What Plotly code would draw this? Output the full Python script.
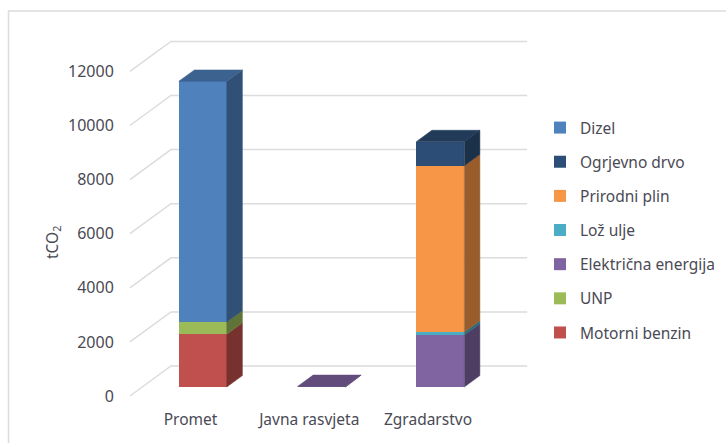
import plotly.graph_objects as go

categories = ["Promet", "Javna rasvjeta", "Zgradarstvo"]
y_ticks = [0, 2000, 4000, 6000, 8000, 10000, 12000]

# values per category, tCO2
dizel = [8900, 0, 0]
ogrjevno_drvo = [0, 0, 890]
prirodni_plin = [0, 0, 6150]
loz_ulje = [0, 0, 110]
elektricna_energija = [0, 20, 1920]
unp = [450, 0, 0]
motorni_benzin = [1950, 0, 0]

# (name, values, colour) in stacking order, bottom first
stack = [
    ("Motorni benzin", motorni_benzin, (192, 80, 77)),
    ("UNP", unp, (155, 187, 89)),
    ("Električna energija", elektricna_energija, (128, 100, 162)),
    ("Lož ulje", loz_ulje, (75, 172, 198)),
    ("Prirodni plin", prirodni_plin, (247, 150, 70)),
    ("Ogrjevno drvo", ogrjevno_drvo, (44, 77, 117)),
    ("Dizel", dizel, (79, 129, 189)),
]
legend_order = ["Dizel", "Ogrjevno drvo", "Prirodni plin", "Lož ulje",
                "Električna energija", "UNP", "Motorni benzin"]

# Oblique projection of the 3-D chart, in axis units
W, H = 726, 443
PX_L, PX_R, PX_T, PX_B = 125, 726, 30, 400
PX_PER_CAT = 118.75
PX_PER_VAL = 0.02705
X0_PX, Y0_PX = 190.5, 396.0
DX = 41 / PX_PER_CAT          # shift in x per unit depth
DY = 30 / PX_PER_VAL          # shift in y per unit depth
D_FRONT, D_BACK = 0.3, 0.68   # depth span of the columns
HALF = 24 / PX_PER_CAT
SIDE, TOP = 0.62, 0.76
WALL_L, WALL_R = -0.51, 2.49


def proj(x, v, d):
    return x + DX * d, v + DY * d


def rgb(c, k=1.0):
    return "rgb({},{},{})".format(*[round(a * k) for a in c])


def poly(pts, colour):
    xs, ys = zip(*pts)
    return go.Scatter(x=list(xs) + [xs[0]], y=list(ys) + [ys[0]], mode="lines",
                      fill="toself", fillcolor=colour, line=dict(color=colour, width=0.5),
                      hoverinfo="skip", showlegend=False)


fig = go.Figure()

traces = {}
cum = [0] * len(categories)
tops = [None] * len(categories)
faces = []
for name, vals, col in stack:
    bx, by, bb = [], [], []
    for i, v in enumerate(vals):
        if v > 0:
            fx, fb = proj(i, cum[i], D_FRONT)
            bx.append(fx)
            bb.append(fb)
            by.append(v)
            lo, hi = cum[i], cum[i] + v
            r = i + HALF
            faces.append(poly([proj(r, lo, D_FRONT), proj(r, lo, D_BACK),
                               proj(r, hi, D_BACK), proj(r, hi, D_FRONT)], rgb(col, SIDE)))
            tops[i] = (hi, col)
            cum[i] = hi
    traces[name] = go.Bar(x=bx, y=by, base=bb, width=2 * HALF, name=name,
                          marker=dict(color=rgb(col), line=dict(width=0)),
                          legendgroup=name, hoverinfo="name+y")

for i, t in enumerate(tops):
    hi, col = t
    faces.append(poly([proj(i - HALF, hi, D_FRONT), proj(i + HALF, hi, D_FRONT),
                       proj(i + HALF, hi, D_BACK), proj(i - HALF, hi, D_BACK)], rgb(col, TOP)))

for n in legend_order:
    fig.add_trace(traces[n])
for f in faces:
    fig.add_trace(f)

# Slanted gridlines on side wall and back wall
shapes = []
for v in y_ticks:
    x1, y1 = proj(WALL_L, v, 1)
    x2, y2 = proj(WALL_R, v, 1)
    shapes.append(dict(type="path", xref="x", yref="y", layer="below",
                       path=f"M{WALL_L},{v}L{x1},{y1}L{x2},{y2}",
                       line=dict(color="#dcdcdc", width=1.5)))

# Outer chart frame (runs off the right and bottom of the picture)
fw = PX_R - PX_L
fh = PX_B - PX_T
shapes.append(dict(type="rect", xref="paper", yref="paper", layer="below",
                   x0=(8.5 - PX_L) / fw, x1=(740 - PX_L) / fw,
                   y0=(PX_B - 460) / fh, y1=(PX_B - 11) / fh,
                   line=dict(color="#dcdcdc", width=1.5)))

FONT = "Noto Sans"
TEXT = "#4a4a55"
fig.update_layout(
    width=W, height=H, autosize=False,
    margin=dict(l=PX_L, r=W - PX_R, t=PX_T, b=H - PX_B, pad=0),
    paper_bgcolor="white", plot_bgcolor="rgba(0,0,0,0)",
    barmode="overlay", bargap=0,
    shapes=shapes,
    font=dict(family=FONT, color=TEXT, size=15.5),
    xaxis=dict(range=[(PX_L - X0_PX) / PX_PER_CAT, (PX_R - X0_PX) / PX_PER_CAT],
               tickmode="array", tickvals=[0, 1, 2], ticktext=categories,
               showgrid=False, zeroline=False, showline=False, ticks="outside",
               ticklen=5, tickcolor="rgba(0,0,0,0)", tickfont=dict(size=15.5, color=TEXT)),
    yaxis=dict(range=[(Y0_PX - PX_B) / PX_PER_VAL, (Y0_PX - PX_T) / PX_PER_VAL],
               tickmode="array", tickvals=y_ticks, ticktext=[str(v) for v in y_ticks],
               showgrid=False, zeroline=False,
               showline=False, ticks="outside", ticklen=7, tickcolor="rgba(0,0,0,0)",
               tickfont=dict(size=16, color=TEXT)),
    legend=dict(x=(540 - PX_L) / fw, y=(PX_B - 111) / fh, xanchor="left", yanchor="top",
                bgcolor="rgba(0,0,0,0)", tracegroupgap=11,
                font=dict(size=15.5, color=TEXT), itemclick=False, itemdoubleclick=False),
    annotations=[dict(text="tCO<sub>2</sub>", xref="paper", yref="paper",
                      x=(52 - PX_L) / fw, y=(PX_B - 243) / fh, textangle=-90,
                      xanchor="center", yanchor="middle",
                      showarrow=False, font=dict(size=15.5, color=TEXT))],
)
fig.write_html("out.html", config={"displayModeBar": False},
               post_script="document.body.style.margin='0';")
